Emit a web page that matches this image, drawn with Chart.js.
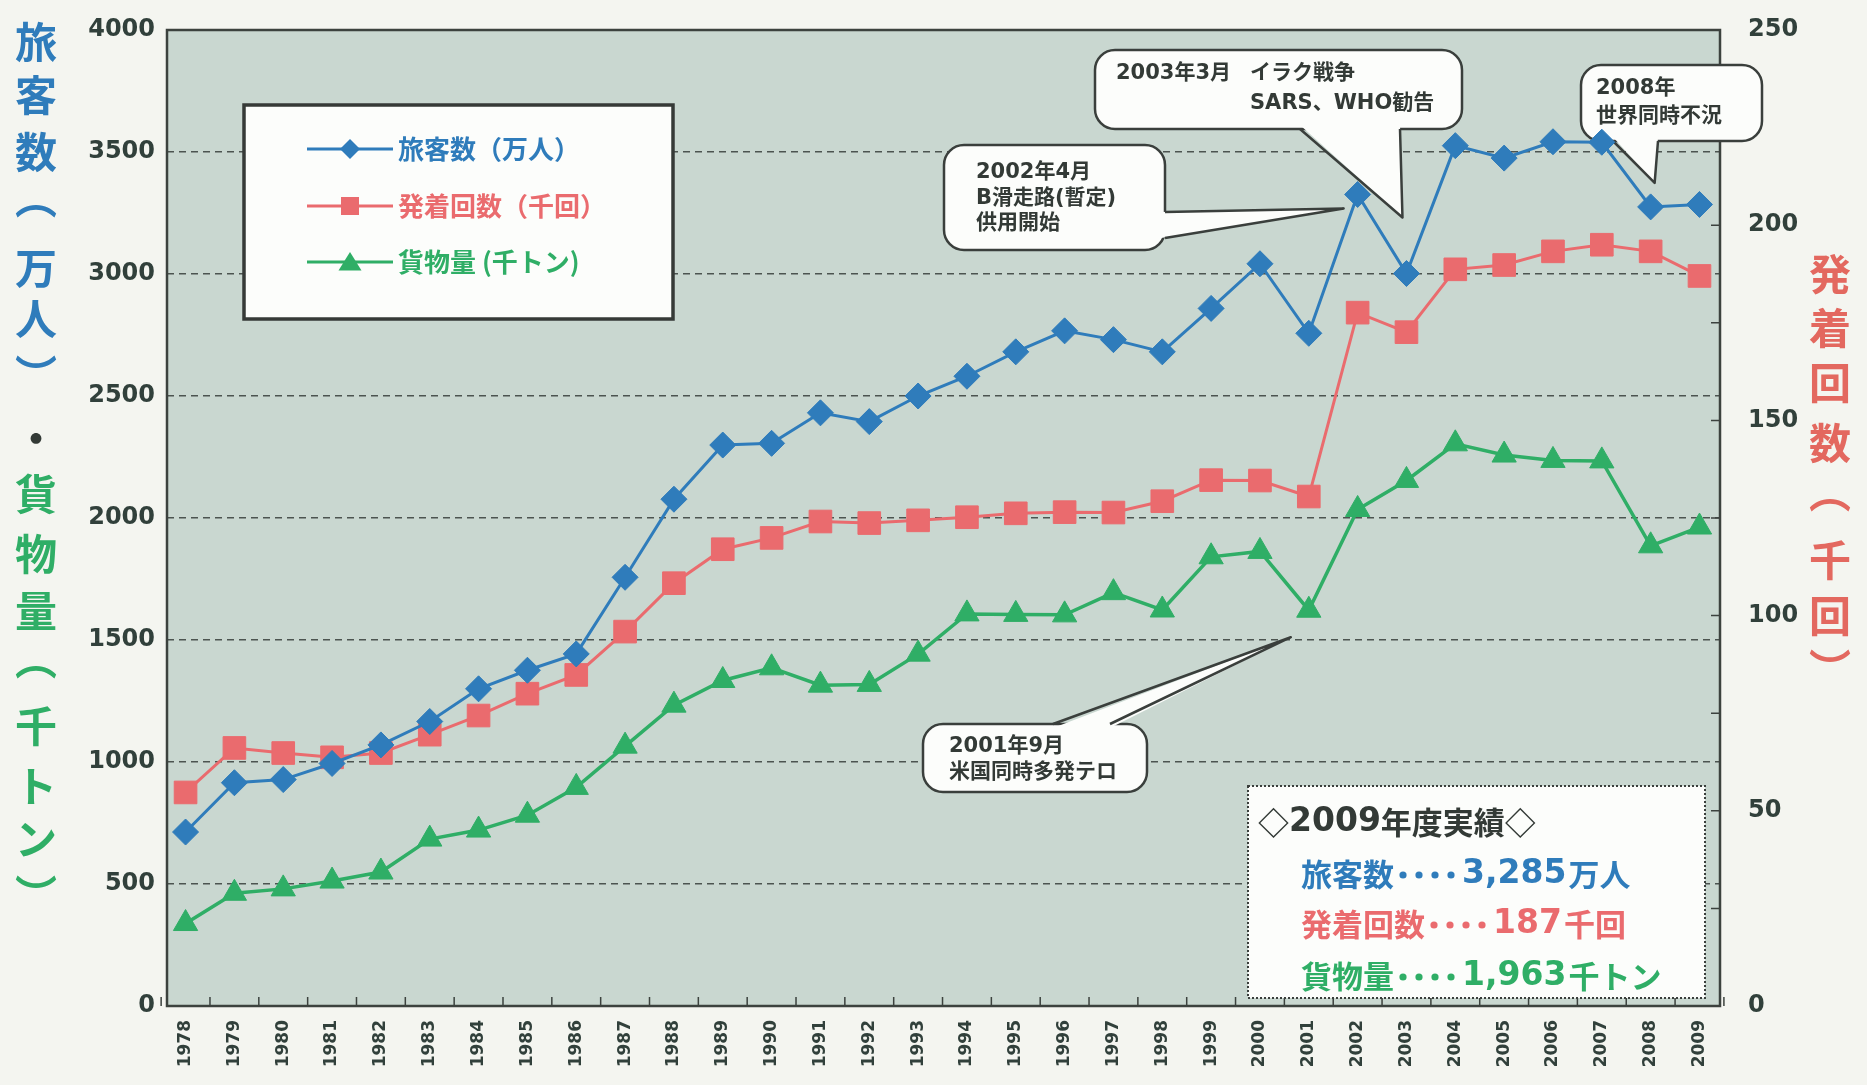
<!DOCTYPE html>
<html lang="ja">
<head>
<meta charset="utf-8">
<title>旅客数・発着回数・貨物量の推移</title>
<script src="https://cdn.jsdelivr.net/npm/chart.js@4.4.1/dist/chart.umd.min.js"></script>
<style>
  html, body { margin: 0; padding: 0; background: #f4f5f0; overflow: hidden; }
  #wrap { width: 1867px; height: 1085px; }
</style>
</head>
<body>
<div id="wrap"><canvas id="trafficChart" width="1867" height="1085"></canvas></div>
<script>
// 年度
const years = ['1978', '1979', '1980', '1981', '1982', '1983', '1984', '1985',
  '1986', '1987', '1988', '1989', '1990', '1991', '1992', '1993', '1994', '1995',
  '1996', '1997', '1998', '1999', '2000', '2001', '2002', '2003', '2004', '2005',
  '2006', '2007', '2008', '2009'];

// 旅客数（万人）
const passengers = [713, 915, 928, 994, 1070, 1166, 1300, 1376, 1443, 1757, 2077,
  2299, 2306, 2431, 2395, 2500, 2581, 2681, 2767, 2731, 2681, 2859, 3042, 2757,
  3326, 3002, 3526, 3475, 3542, 3540, 3275, 3285];

// 発着回数（千回）
const movements = [54.7, 66.1, 64.8, 63.7, 64.8, 69.5, 74.4, 80.0, 84.8, 95.9,
  108.3, 117.0, 119.9, 124.1, 123.7, 124.4, 125.2, 126.2, 126.5, 126.4, 129.3,
  134.7, 134.6, 130.5, 177.6, 172.6, 188.7, 189.8, 193.3, 195.0, 193.3, 187];

// 貨物量（千トン）
const cargo = [338, 462, 480, 512, 549, 684, 721, 782, 896, 1065, 1233, 1334, 1386,
  1315, 1318, 1442, 1607, 1605, 1603, 1694, 1623, 1841, 1863, 1622, 2035, 2154,
  2304, 2258, 2236, 2234, 1886, 1963];

const leftMax = 4000, leftStep = 500;
const rightMax = 250, rightStep = 50;

const BLUE = '#2f7cbb', RED = '#ea6b6e', GREEN = '#2fae66';
const INK = '#333a36', TICK = '#31403b';
const NUM = '"DejaVu Sans", "Noto Sans CJK JP", sans-serif';
const JP = '"Noto Sans CJK JP", sans-serif';

// 吹き出し
const notes = [
  { box: [944, 145, 221, 105], side: 'right', base: [[1165, 212], [1165, 238]],
    year: '2002', series: passengers, axis: 'y', tip: [-14, 14],
    text: [['2002年4月', 32, 28], ['B滑走路(暫定)', 32, 54], ['供用開始', 32, 79]] },
  { box: [1095, 50, 367, 79], side: 'bottom', base: [[1300, 129], [1400, 129]],
    year: '2003', series: passengers, axis: 'y', tip: [-4, -56],
    text: [['2003年3月', 21, 24], ['イラク戦争', 155, 24], ['SARS、WHO勧告', 155, 54]] },
  { box: [1581, 65, 181, 76], side: 'bottom', base: [[1613, 141], [1658, 141]],
    year: '2008', series: passengers, axis: 'y', tip: [4, -24],
    text: [['2008年', 15, 24], ['世界同時不況', 15, 52]] },
  { box: [923, 724, 224, 68], side: 'top', base: [[1053, 724], [1110, 724]],
    year: '2001', series: cargo, axis: 'y', tip: [-18, 27],
    text: [['2001年9月', 26, 23], ['米国同時多発テロ', 26, 49]] }
];

// 縦書きの軸タイトル
const leftTitle = [
  ['旅', 42, BLUE], ['客', 95, BLUE], ['数', 152, BLUE], ['︵', 198, BLUE],
  ['万', 268, BLUE], ['人', 319, BLUE], ['︶', 375, BLUE], ['・', 438, INK],
  ['貨', 494, GREEN], ['物', 554, GREEN], ['量', 611, GREEN], ['︵', 659, GREEN],
  ['千', 726, GREEN], ['ト', 786, GREEN], ['ン', 839, GREEN], ['︶', 895, GREEN]
];
const rightTitle = [
  ['発', 274], ['着', 328], ['回', 383], ['数', 443], ['︵', 492], ['千', 560],
  ['回', 616], ['︶', 669]
];

function marker(ctx, style, x, y, r) {
  ctx.beginPath();
  if (style === 'rectRot') {
    ctx.moveTo(x, y - r); ctx.lineTo(x + r, y); ctx.lineTo(x, y + r); ctx.lineTo(x - r, y);
  } else if (style === 'rect') {
    ctx.rect(x - r, y - r, 2 * r, 2 * r);
  } else {
    ctx.moveTo(x, y - r); ctx.lineTo(x + r * 1.15, y + r * 0.85); ctx.lineTo(x - r * 1.15, y + r * 0.85);
  }
  ctx.closePath();
  ctx.fill();
}

function drawBubble(ctx, chart, n) {
  const [bx, by, bw, bh] = n.box;
  const i = years.indexOf(n.year);
  const tx = chart.scales.x.getPixelForValue(Number(n.year)) + n.tip[0];
  const ty = chart.scales[n.axis].getPixelForValue(n.series[i]) + n.tip[1];
  const inset = { right: [-4, 0], bottom: [0, -4], top: [0, 4] }[n.side];
  const [p1, p2] = n.base;

  ctx.save();
  ctx.fillStyle = '#fcfdfb';
  ctx.strokeStyle = '#3a3f3c';
  ctx.lineWidth = 2.5;
  ctx.lineJoin = 'round';
  ctx.beginPath();
  ctx.roundRect(bx, by, bw, bh, 20);
  ctx.fill();
  ctx.stroke();

  ctx.beginPath();
  ctx.moveTo(p1[0] + inset[0], p1[1] + inset[1]);
  ctx.lineTo(tx, ty);
  ctx.lineTo(p2[0] + inset[0], p2[1] + inset[1]);
  ctx.closePath();
  ctx.fill();
  ctx.beginPath();
  ctx.moveTo(p1[0], p1[1]);
  ctx.lineTo(tx, ty);
  ctx.lineTo(p2[0], p2[1]);
  ctx.stroke();

  ctx.fillStyle = INK;
  ctx.font = 'bold 21px ' + NUM;
  ctx.textBaseline = 'middle';
  ctx.textAlign = 'left';
  n.text.forEach(([t, dx, dy]) => ctx.fillText(t, bx + dx, by + dy));
  ctx.restore();
}

function drawLegendBox(ctx, chart) {
  ctx.save();
  ctx.fillStyle = '#fcfdfb';
  ctx.fillRect(244, 105, 429, 214);
  ctx.strokeStyle = '#363a37';
  ctx.lineWidth = 3.5;
  ctx.strokeRect(244, 105, 429, 214);

  const rows = [149, 206, 262];
  const sizes = { rectRot: 10, rect: 9, triangle: 10 };
  chart.data.datasets.forEach((ds, k) => {
    const y = rows[k];
    ctx.strokeStyle = ds.borderColor;
    ctx.lineWidth = 3;
    ctx.beginPath();
    ctx.moveTo(307, y);
    ctx.lineTo(393, y);
    ctx.stroke();
    ctx.fillStyle = ds.borderColor;
    marker(ctx, ds.pointStyle, 350, y, sizes[ds.pointStyle]);
    ctx.font = 'bold 26px ' + JP;
    ctx.textBaseline = 'middle';
    ctx.fillText(ds.label, 398, y);
  });
  ctx.restore();
}

function drawSummary(ctx) {
  const last = years.length - 1;
  ctx.save();
  ctx.fillStyle = '#fcfdfb';
  ctx.fillRect(1248, 786, 457, 212);
  ctx.strokeStyle = '#3a3f3c';
  ctx.lineWidth = 2;
  ctx.setLineDash([2, 2]);
  ctx.strokeRect(1248, 786, 457, 212);
  ctx.setLineDash([]);

  ctx.textBaseline = 'middle';
  ctx.fillStyle = INK;
  ctx.font = 'bold 31px ' + JP;
  let x = 1258;
  ctx.fillText('◇', x, 822); x += ctx.measureText('◇').width;
  ctx.font = 'bold 33px ' + NUM;
  ctx.fillText(years[last], x, 822); x += ctx.measureText(years[last]).width;
  ctx.font = 'bold 31px ' + JP;
  ctx.fillText('年度実績◇', x, 822);

  const rows = [
    ['旅客数', passengers[last].toLocaleString('en-US'), '万人', BLUE, 874],
    ['発着回数', String(movements[last]), '千回', RED, 924],
    ['貨物量', cargo[last].toLocaleString('en-US'), '千トン', GREEN, 976]
  ];
  rows.forEach(([label, val, unit, color, y]) => {
    let cx = 1301;
    ctx.fillStyle = color;
    ctx.font = 'bold 31px ' + JP;
    ctx.fillText(label, cx, y); cx += ctx.measureText(label).width;
    // 点線リーダー
    for (let d = 0; d < 4; d++) {
      ctx.beginPath();
      ctx.arc(cx + 9 + d * 16, y + 1, 3.6, 0, Math.PI * 2);
      ctx.fill();
    }
    cx += 68;
    ctx.font = 'bold 33px ' + NUM;
    ctx.fillText(val, cx, y); cx += ctx.measureText(val).width + 2;
    ctx.font = 'bold 31px ' + JP;
    ctx.fillText(unit, cx, y);
  });
  ctx.restore();
}

function drawTitles(ctx) {
  ctx.save();
  ctx.font = 'bold 42px ' + JP;
  ctx.textAlign = 'center';
  ctx.textBaseline = 'middle';
  leftTitle.forEach(([c, y, color]) => { ctx.fillStyle = color; ctx.fillText(c, 36, y); });
  ctx.fillStyle = '#e3685f';
  rightTitle.forEach(([c, y]) => ctx.fillText(c, 1830, y));
  ctx.restore();
}

const decorations = {
  id: 'decorations',
  beforeDraw(chart) {
    const { ctx, chartArea: a } = chart;
    ctx.save();
    ctx.fillStyle = '#f4f5f0';
    ctx.fillRect(0, 0, chart.width, chart.height);
    ctx.fillStyle = '#c9d7d0';
    ctx.fillRect(a.left, a.top, a.right - a.left, a.bottom - a.top);
    ctx.restore();
  },
  beforeDatasetsDraw(chart) {
    const { ctx, chartArea: a, scales } = chart;
    ctx.save();
    ctx.strokeStyle = '#3c423e';
    ctx.lineWidth = 2.5;
    ctx.strokeRect(a.left, a.top, a.right - a.left, a.bottom - a.top);
    // 内向きの目盛り
    ctx.lineWidth = 1.5;
    ctx.beginPath();
    for (let i = 0; i <= years.length; i++) {
      const px = scales.x.getPixelForValue(Number(years[0]) + i - 0.5);
      ctx.moveTo(px, a.bottom);
      ctx.lineTo(px, a.bottom - 9);
    }
    for (let v = 0; v <= rightMax; v += rightStep / 2) {
      const py = scales.y1.getPixelForValue(v);
      ctx.moveTo(a.right, py);
      ctx.lineTo(a.right - 9, py);
    }
    ctx.stroke();
    ctx.restore();

    drawLegendBox(ctx, chart);
    notes.forEach(n => drawBubble(ctx, chart, n));
    drawSummary(ctx);
  },
  afterDraw(chart) {
    drawTitles(chart.ctx);
  }
};

// 縦軸ラベルのはみ出し分を上下の余白に加えない
function fitVertical(width) {
  return scale => {
    scale.width = width;
    scale.paddingTop = 0;
    scale.paddingBottom = 0;
  };
}

const ctx = document.getElementById('trafficChart').getContext('2d');
new Chart(ctx, {
  type: 'line',
  data: {
    labels: years,
    datasets: [{
      label: '旅客数（万人）',
      data: passengers,
      yAxisID: 'y',
      borderColor: BLUE,
      backgroundColor: BLUE,
      borderWidth: 3,
      pointStyle: 'rectRot',
      pointRadius: 13,
      pointBorderWidth: 1,
      tension: 0
    }, {
      label: '発着回数（千回）',
      data: movements,
      yAxisID: 'y1',
      borderColor: RED,
      backgroundColor: RED,
      borderWidth: 3,
      pointStyle: 'rect',
      pointRadius: 16,
      pointBorderWidth: 1,
      tension: 0
    }, {
      label: '貨物量 (千トン)',
      data: cargo,
      yAxisID: 'y',
      borderColor: GREEN,
      backgroundColor: GREEN,
      borderWidth: 3.5,
      pointStyle: 'triangle',
      pointRadius: 14,
      pointBorderWidth: 1,
      tension: 0
    }]
  },
  options: {
    responsive: false,
    maintainAspectRatio: false,
    animation: false,
    events: [],
    layout: { padding: { top: 30, left: 0, right: 0, bottom: 0 } },
    plugins: {
      legend: { display: false },
      tooltip: { enabled: false }
    },
    scales: {
      x: {
        type: 'linear',
        min: Number(years[0]) - 0.38,
        max: Number(years[years.length - 1]) + 0.42,
        grid: { display: false, drawTicks: false },
        border: { display: false },
        ticks: {
          stepSize: 1,
          autoSkip: false,
          includeBounds: false,
          minRotation: 90,
          maxRotation: 90,
          padding: 14,
          color: TICK,
          font: { family: NUM, size: 17, weight: 'bold' },
          callback: v => Number.isInteger(v) ? String(v) : ''
        },
        afterFit(scale) { scale.height = 79; }
      },
      y: {
        position: 'left',
        min: 0,
        max: leftMax,
        grid: { color: '#4c5450', lineWidth: 1.5, drawTicks: false },
        border: { display: false, dash: [7, 5] },
        ticks: {
          stepSize: leftStep,
          padding: 12,
          color: TICK,
          font: { family: NUM, size: 24, weight: 'bold' },
          callback: v => String(v)
        },
        afterFit: fitVertical(167)
      },
      y1: {
        position: 'right',
        min: 0,
        max: rightMax,
        grid: { drawOnChartArea: false, drawTicks: false },
        border: { display: false },
        ticks: {
          stepSize: rightStep,
          padding: 28,
          color: TICK,
          font: { family: NUM, size: 24, weight: 'bold' },
          callback: v => String(v)
        },
        afterFit: fitVertical(147)
      }
    }
  },
  plugins: [decorations]
});
</script>
</body>
</html>
